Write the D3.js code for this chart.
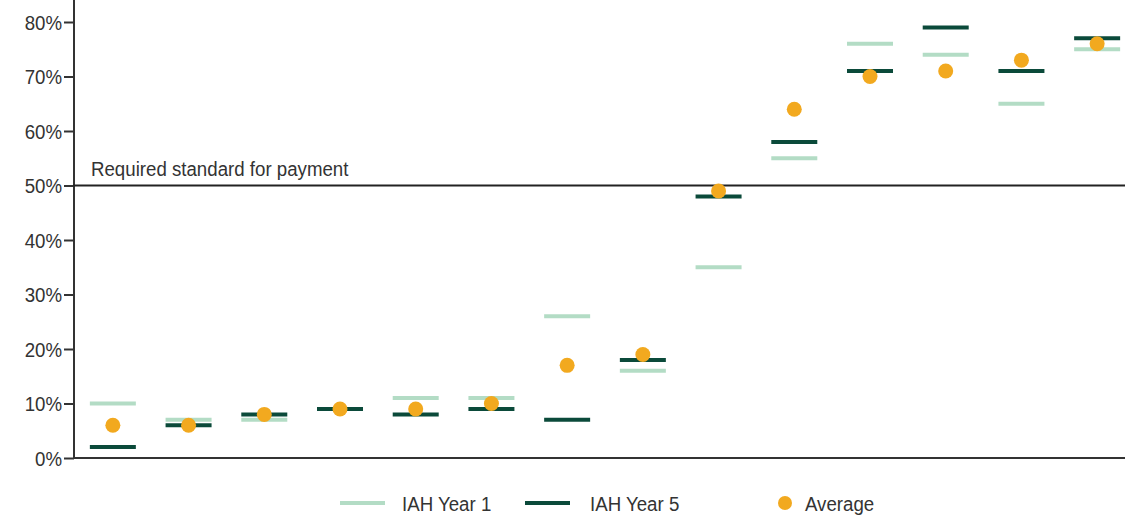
<!DOCTYPE html>
<html>
<head>
<meta charset="utf-8">
<script src="https://cdn.jsdelivr.net/npm/d3@7"></script>
<style>
  html, body { margin: 0; padding: 0; background: #fff; }
  svg { display: block; }
  text { font-family: "Liberation Sans", Arial, sans-serif; fill: #333; }
</style>
</head>
<body>
<svg id="chart" width="1125" height="516"></svg>
<script>
const categories = ["C1","C2","C3","C4","C5","C6","C7","C8","C9","C10","C11","C12","C13","C14"];
const year1 = [10, 7, 7, 9, 11, 11, 26, 16, 35, 55, 76, 74, 65, 75];
const year5 = [2, 6, 8, 9, 8, 9, 7, 18, 48, 58, 71, 79, 71, 77];
const average = [6, 6, 8, 9, 9, 10, 17, 19, 49, 64, 70, 71, 73, 76];
const yTicks = [0, 10, 20, 30, 40, 50, 60, 70, 80];
const thresholdValue = 50;
const thresholdLabel = "Required standard for payment";
const legendLabels = ["IAH Year 1", "IAH Year 5", "Average"];

const colY1 = "#b3dcc5", colY5 = "#0b4a3a", colAvg = "#f2a91f";
const K = 0.89; // horizontal condensing to mimic a narrow typeface
const FS = 21;

const svg = d3.select("#chart");
const x = d3.scaleBand().domain(categories).range([75, 1135]);
const y = d3.scaleLinear().domain([0, 80]).range([458, 22]);

function narrowText(sel, tx, ty, str, anchor) {
  return sel.append("text")
    .attr("transform", `translate(${tx},${ty}) scale(${K},1)`)
    .attr("font-size", FS)
    .attr("text-anchor", anchor || "start")
    .text(str);
}

// y axis
const yAxis = d3.axisLeft(y).tickValues(yTicks).tickFormat(d => d + "%").tickSize(10).tickPadding(2);
const gy = svg.append("g").attr("transform", "translate(74,0)").call(yAxis);
gy.select(".domain").attr("stroke", "#333").attr("stroke-width", 2).attr("d", "M0,0V" + y(0));
gy.selectAll(".tick line").attr("stroke", "#333").attr("stroke-width", 2);
gy.selectAll(".tick text")
  .attr("font-size", FS).attr("fill", "#333")
  .attr("x", -12 / K).attr("dy", "0.35em")
  .attr("transform", `scale(${K},1)`)
  .style("font-family", '"Liberation Sans", Arial, sans-serif');

// x axis baseline
svg.append("line").attr("x1", 73).attr("x2", 1125).attr("y1", y(0)).attr("y2", y(0))
  .attr("stroke", "#333").attr("stroke-width", 2);

// threshold
svg.append("line").attr("x1", 73).attr("x2", 1125).attr("y1", y(thresholdValue)).attr("y2", y(thresholdValue))
  .attr("stroke", "#222").attr("stroke-width", 2);
narrowText(svg, 91, y(thresholdValue) - 10, thresholdLabel);

const half = 23;
const g = svg.append("g");
g.selectAll(".y1").data(categories).join("line")
  .attr("x1", d => x(d) + x.bandwidth()/2 - half).attr("x2", d => x(d) + x.bandwidth()/2 + half)
  .attr("y1", (d,i) => y(year1[i])).attr("y2", (d,i) => y(year1[i]))
  .attr("stroke", colY1).attr("stroke-width", 4);
g.selectAll(".y5").data(categories).join("line")
  .attr("x1", d => x(d) + x.bandwidth()/2 - half).attr("x2", d => x(d) + x.bandwidth()/2 + half)
  .attr("y1", (d,i) => y(year5[i])).attr("y2", (d,i) => y(year5[i]))
  .attr("stroke", colY5).attr("stroke-width", 4);
g.selectAll(".avg").data(categories).join("circle")
  .attr("cx", d => x(d) + x.bandwidth()/2).attr("cy", (d,i) => y(average[i])).attr("r", 7.5)
  .attr("fill", colAvg);

// legend
const ly = 503;
svg.append("line").attr("x1", 340).attr("x2", 385).attr("y1", ly).attr("y2", ly).attr("stroke", colY1).attr("stroke-width", 4);
narrowText(svg, 402, ly + 8, legendLabels[0]);
svg.append("line").attr("x1", 525).attr("x2", 570).attr("y1", ly).attr("y2", ly).attr("stroke", colY5).attr("stroke-width", 4);
narrowText(svg, 590, ly + 8, legendLabels[1]);
svg.append("circle").attr("cx", 785).attr("cy", ly).attr("r", 7).attr("fill", colAvg);
narrowText(svg, 805, ly + 8, legendLabels[2]);
</script>
</body>
</html>
